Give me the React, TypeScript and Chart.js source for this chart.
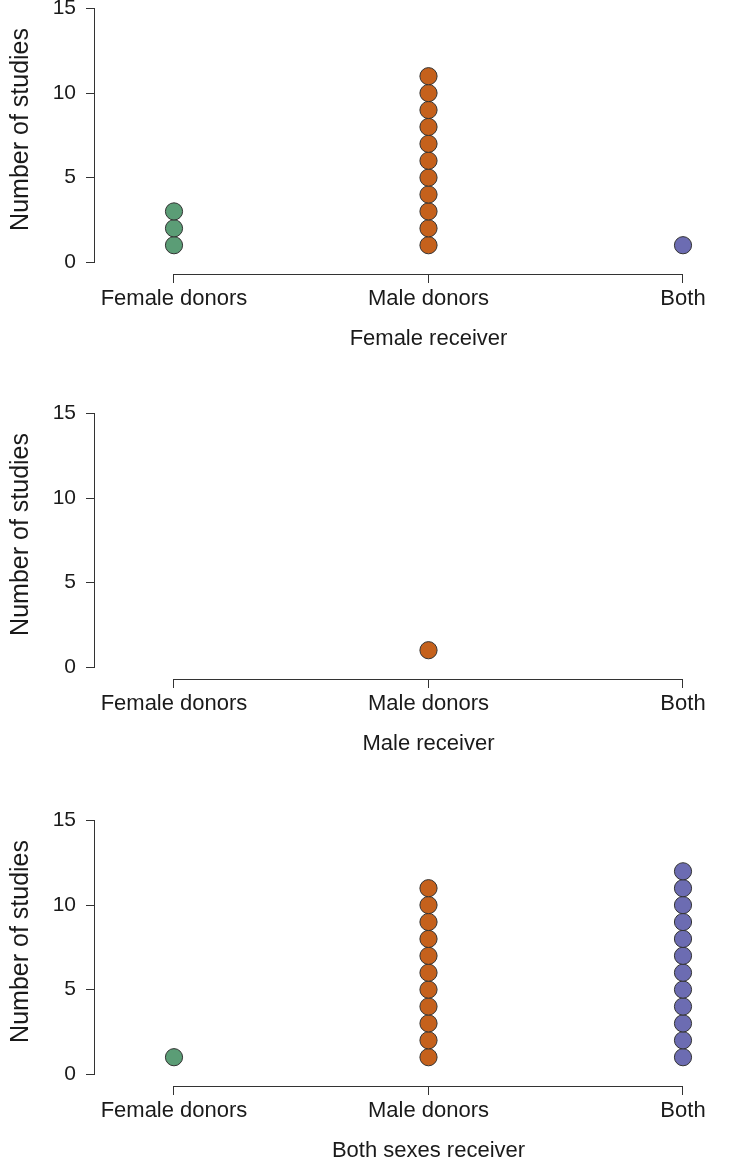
import React, { useEffect, useRef } from "react";
import { Chart, registerables } from "chart.js";

Chart.register(...registerables);

// ---- data ----
const categories = ["Female donors", "Male donors", "Both"];
const femaleReceiverCounts = [3, 11, 1];
const maleReceiverCounts = [0, 1, 0];
const bothSexesReceiverCounts = [1, 11, 12];
const yTicks = [0, 5, 10, 15];
const panelTitles = ["Female receiver", "Male receiver", "Both sexes receiver"];

// ---- style ----
const FONT = '"Liberation Sans", Arial, sans-serif';
const INK = "#1a1a1a";
const LINE = "#333333";
const fills = ["#5B9D76", "#C5611C", "#6C6CB2"];
const panelTops = [6, 411, 818];
const CANVAS_W = 733;
const CANVAS_H = 368;
const PAD_TOP = 20;

const axesPlugin = {
  id: "rAxes",
  afterDraw(chart: any, _args: any, opts: any) {
    const { ctx, chartArea } = chart;
    const xs = chart.scales.x;
    const ys = chart.scales.y;
    ctx.save();
    ctx.strokeStyle = LINE;
    ctx.lineWidth = 1;
    // y axis line from 0 to 15
    const xl = Math.round(chartArea.left) - 0.5;
    ctx.beginPath();
    ctx.moveTo(xl, ys.getPixelForValue(yTicks[0]));
    ctx.lineTo(xl, ys.getPixelForValue(yTicks[yTicks.length - 1]));
    ctx.stroke();
    // x axis line from first to last category
    const yb = Math.round(chartArea.bottom) + 0.5;
    ctx.beginPath();
    ctx.moveTo(xs.getPixelForValue(0), yb);
    ctx.lineTo(xs.getPixelForValue(categories.length - 1), yb);
    ctx.stroke();
    // titles
    ctx.fillStyle = INK;
    ctx.font = `22px ${FONT}`;
    ctx.textAlign = "center";
    ctx.textBaseline = "alphabetic";
    ctx.fillText(opts.xTitle, xs.getPixelForValue(1), chartArea.bottom + 71);
    ctx.translate(21, ys.getPixelForValue(7.85));
    ctx.rotate(-Math.PI / 2);
    ctx.font = `25px ${FONT}`;
    ctx.textBaseline = "middle";
    ctx.fillText("Number of studies", 0, 0);
    ctx.restore();
  },
};

function Panel({ counts, title, top }: { counts: number[]; title: string; top: number }) {
  const ref = useRef<HTMLCanvasElement | null>(null);
  useEffect(() => {
    if (!ref.current) return;
    const datasets = categories.map((c, i) => ({
      label: c,
      data: Array.from({ length: counts[i] }, (_, k) => ({ x: i, y: k + 1 })),
      backgroundColor: fills[i],
      borderColor: LINE,
      borderWidth: 1,
      pointRadius: 8.6,
      pointHoverRadius: 8.6,
      showLine: false,
      clip: false as any,
    }));
    const chart = new Chart(ref.current, {
      type: "scatter",
      data: { datasets },
      plugins: [axesPlugin],
      options: {
        animation: false,
        responsive: false,
        events: [],
        layout: { padding: { top: PAD_TOP, left: 0, right: 30, bottom: 0 } },
        plugins: {
          legend: { display: false },
          tooltip: { enabled: false },
          rAxes: { xTitle: title },
        } as any,
        scales: {
          x: {
            type: "linear",
            min: -0.3104,
            max: 2.0786,
            afterBuildTicks: (s: any) => {
              s.ticks = categories.map((_, i) => ({ value: i }));
            },
            afterFit: (s: any) => {
              s.height = CANVAS_H - PAD_TOP - 268;
            },
            ticks: {
              autoSkip: false,
              maxRotation: 0,
              padding: 3,
              color: INK,
              font: { family: FONT, size: 22 },
              callback: (v: any) => categories[Math.round(Number(v))] ?? "",
            },
            grid: { display: true, drawOnChartArea: false, drawTicks: true, tickLength: 9, color: LINE, lineWidth: 1 },
            border: { display: false },
          },
          y: {
            type: "linear",
            min: -0.703,
            max: 15,
            afterBuildTicks: (s: any) => {
              s.ticks = yTicks.map((v) => ({ value: v }));
            },
            afterFit: (s: any) => {
              s.width = 95;
            },
            ticks: {
              padding: 10,
              color: INK,
              font: { family: FONT, size: 21 },
              callback: (v: any) => String(v),
            },
            grid: { display: true, drawOnChartArea: false, drawTicks: true, tickLength: 9, color: LINE, lineWidth: 1 },
            border: { display: false },
          },
        },
      },
    });
    return () => chart.destroy();
  }, [counts, title]);
  return (
    <canvas
      ref={ref}
      width={CANVAS_W}
      height={CANVAS_H}
      style={{ position: "absolute", left: 0, top: top - PAD_TOP, width: CANVAS_W, height: CANVAS_H }}
    />
  );
}

export default function App() {
  const all = [femaleReceiverCounts, maleReceiverCounts, bothSexesReceiverCounts];
  return (
    <div style={{ position: "absolute", left: 0, top: 0, width: 733, height: 1160, overflow: "hidden", background: "#fff" }}>
      {all.map((c, i) => (
        <Panel key={i} counts={c} title={panelTitles[i]} top={panelTops[i]} />
      ))}
    </div>
  );
}
